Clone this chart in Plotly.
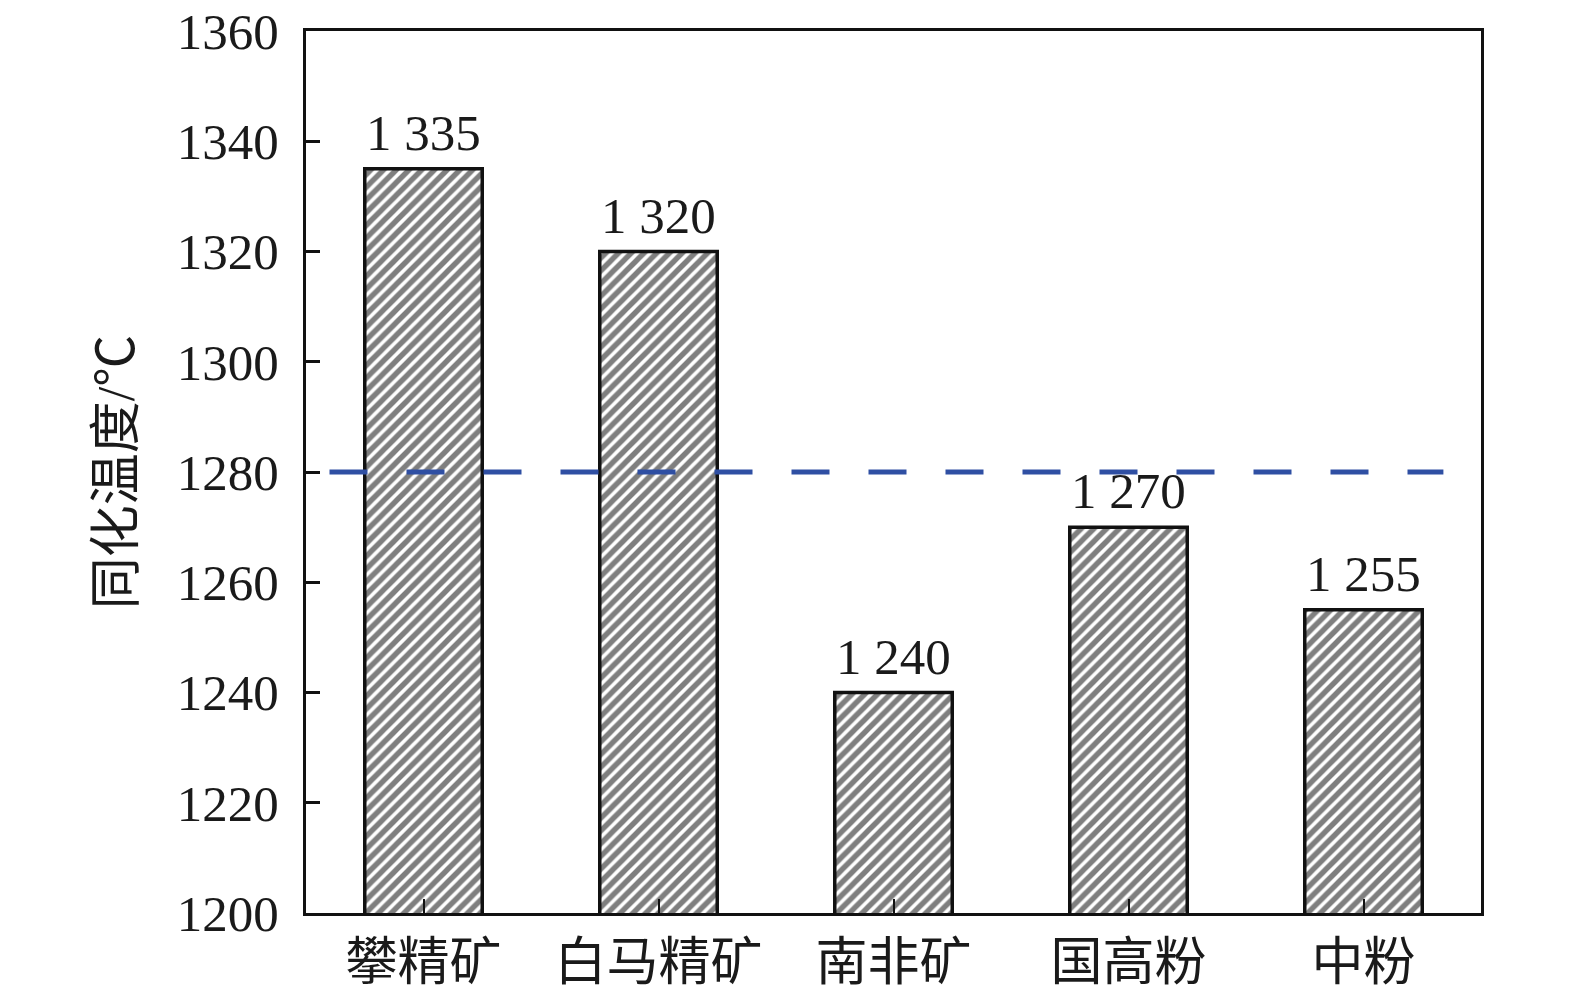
import plotly.graph_objects as go

categories = ["攀精矿", "白马精矿", "南非矿", "国高粉", "中粉"]
values = [1335, 1320, 1240, 1270, 1255]
threshold = 1280
y_ticks = [1200, 1220, 1240, 1260, 1280, 1300, 1320, 1340, 1360]
y_title = "同化温度/℃"

FONT = "Times New Roman, Liberation Serif, Noto Sans CJK SC"

fig = go.Figure()
fig.add_trace(go.Bar(
    x=categories, y=values, width=0.5,
    marker=dict(color="white", line=dict(color="#111111", width=3.5),
                pattern=dict(shape="/", size=9, solidity=0.6, fgcolor="#000000", bgcolor="white")),
    cliponaxis=False,
))

for c, v in zip(categories, values):
    fig.add_annotation(x=c, y=v, text=f"{v:,}".replace(",", " "), showarrow=False,
                       yanchor="bottom", yshift=6,
                       font=dict(family=FONT, size=51, color="#1a1a1a"))

fig.add_shape(type="line", xref="paper", yref="y", x0=0.02, x1=0.968, y0=threshold, y1=threshold,
              line=dict(color="#2f4fa3", width=5, dash="38px,39px"))

fig.update_layout(
    width=1575, height=1001,
    margin=dict(l=306, r=94, t=31, b=88),
    plot_bgcolor="white", paper_bgcolor="white",
    showlegend=False,
    font=dict(family=FONT, color="#1a1a1a"),
)
fig.update_xaxes(showline=True, linecolor="#111111", linewidth=3, mirror=True, automargin=False,
                 ticks="inside", ticklen=14, tickwidth=2, tickcolor="#111111",
                 tickfont=dict(size=52, family="Noto Sans CJK SC"), range=[-0.5, 4.5],
                 ticklabelstandoff=2)
fig.update_yaxes(showline=True, linecolor="#111111", linewidth=3, mirror=True, automargin=False,
                 ticks="inside", ticklen=14, tickwidth=3, tickcolor="#111111",
                 range=[1200, 1360], tickvals=y_ticks, showgrid=False, zeroline=False,
                 tickfont=dict(size=51, family=FONT), ticklabelstandoff=14,
                 ticklabeloverflow="allow",
                 title=dict(text=y_title, font=dict(size=52, family=FONT), standoff=26))
fig.update_xaxes(showgrid=False)

fig.write_html("out.html", config={"displayModeBar": False},
               post_script="document.body.style.margin='0';document.body.style.overflow='hidden';")
